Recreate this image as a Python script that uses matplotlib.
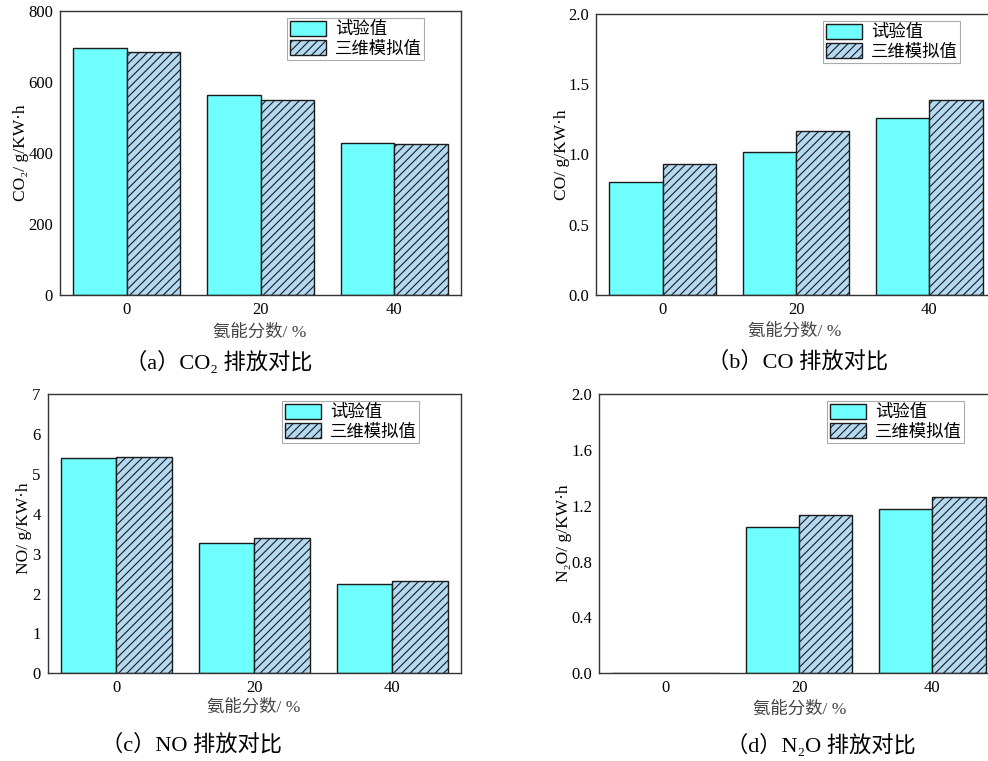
import matplotlib
matplotlib.use("Agg")
import matplotlib.pyplot as plt
import numpy as np

# ---- data ----
categories = ["0", "20", "40"]
series_names = ["试验值", "三维模拟值"]

co2_test = [696, 564, 429]
co2_sim = [684, 549, 424]

co_test = [0.806, 1.02, 1.258]
co_sim = [0.934, 1.167, 1.39]

no_test = [5.40, 3.27, 2.24]
no_sim = [5.42, 3.38, 2.31]

n2o_test = [0.0, 1.05, 1.18]
n2o_sim = [0.0, 1.13, 1.26]

y_labels = ["CO₂/ g/KW·h", "CO/ g/KW·h", "NO/ g/KW·h", "N₂O/ g/KW·h"]
x_label = "氨能分数/ %"
captions = ["（a）CO₂ 排放对比", "（b）CO 排放对比", "（c）NO 排放对比", "（d）N₂O 排放对比"]

plt.rcParams["hatch.color"] = "#2b3b4b"
plt.rcParams["hatch.linewidth"] = 0.8

W, H = 988, 761
fig = plt.figure(figsize=(W / 100, H / 100), dpi=100)

SERIF = ["Liberation Serif", "DejaVu Serif", "Noto Sans CJK SC"]
CJK = ["Liberation Serif", "DejaVu Serif", "Noto Sans CJK SC"]

def px_axes(left, right, top, bottom):
    return fig.add_axes([left / W, 1 - bottom / H, (right - left) / W, (bottom - top) / H])

panels = [
    dict(box=(60, 461, 11, 295), test=co2_test, sim=co2_sim, ylim=(0, 800),
         yticks=[0, 200, 400, 600, 800], yfmt="{:.0f}",
         leg=(287, 18), ylab=(21, 153), xlab=(260, 333), cap=(219, 362)),
    dict(box=(596, 996, 14, 295), test=co_test, sim=co_sim, ylim=(0, 2.0),
         yticks=[0, 0.5, 1.0, 1.5, 2.0], yfmt="{:.1f}",
         leg=(823, 21), ylab=(562, 155), xlab=(795, 332), cap=(798, 362)),
    dict(box=(47.5, 461.3, 394, 673.3), test=no_test, sim=no_sim, ylim=(0, 7),
         yticks=[0, 1, 2, 3, 4, 5, 6, 7], yfmt="{:.0f}",
         leg=(282, 401), ylab=(24, 528), xlab=(254, 708), cap=(191, 745)),
    dict(box=(599, 999, 394, 673.3), test=n2o_test, sim=n2o_sim, ylim=(0, 2.0),
         yticks=[0, 0.4, 0.8, 1.2, 1.6, 2.0], yfmt="{:.1f}",
         leg=(827, 401), ylab=(564, 533), xlab=(800, 710), cap=(821, 745)),
]

x = np.arange(len(categories))
bw = 0.4
for i, p in enumerate(panels):
    ax = px_axes(*p["box"])
    ax.bar(x - bw / 2, p["test"], bw, color="#70ffff", edgecolor="#1a1a1a",
           linewidth=1.0, label=series_names[0])
    ax.bar(x + bw / 2, p["sim"], bw, color="#b3daf2", edgecolor="#1a1a1a",
           linewidth=1.0, hatch="////", label=series_names[1])
    ax.set_xlim(-0.5, 2.5)
    ax.set_ylim(*p["ylim"])
    ax.set_xticks(x)
    ax.set_xticklabels(categories)
    ax.set_yticks(p["yticks"])
    ax.set_yticklabels([p["yfmt"].format(v) for v in p["yticks"]])
    ax.tick_params(length=0, pad=5, labelsize=12)
    for lab in ax.get_xticklabels() + ax.get_yticklabels():
        lab.set_fontfamily(SERIF)
    for s in ax.spines.values():
        s.set_linewidth(1.0)
        s.set_color("#333333")
    lx, ly = p["leg"]
    leg = ax.legend(loc="upper left", bbox_to_anchor=(lx / W, 1 - ly / H),
                    bbox_transform=fig.transFigure, prop={"family": CJK, "size": 12.5},
                    frameon=True, fancybox=False, framealpha=1, edgecolor="#aaaaaa",
                    borderpad=0.15, handlelength=2.1, handleheight=0.95,
                    handletextpad=0.5, labelspacing=0.12, borderaxespad=0)
    leg.get_frame().set_linewidth(0.8)
    fig.text(p["ylab"][0] / W, 1 - p["ylab"][1] / H, y_labels[i], rotation=90,
             ha="center", va="center", fontsize=12.5, family=SERIF)
    fig.text(p["xlab"][0] / W, 1 - p["xlab"][1] / H, x_label, ha="center", va="center",
             fontsize=12.5, family=CJK, color="#444444")
    fig.text(p["cap"][0] / W, 1 - p["cap"][1] / H, captions[i], ha="center", va="center",
             fontsize=16, family=CJK)

fig.savefig("out.png", dpi=100)
